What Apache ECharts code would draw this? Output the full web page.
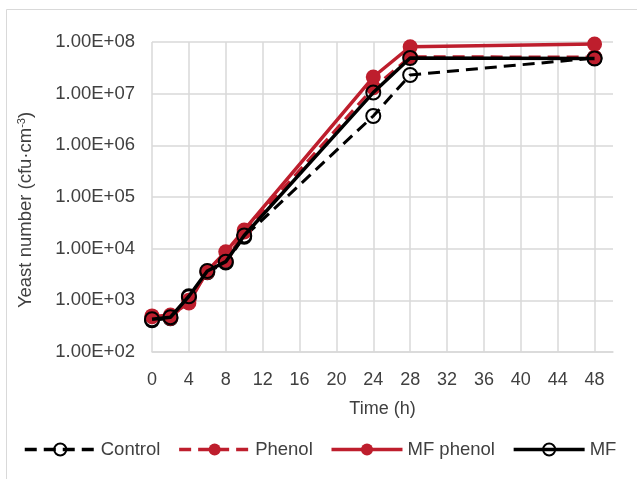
<!DOCTYPE html>
<html>
<head>
<meta charset="utf-8">
<script src="https://cdn.jsdelivr.net/npm/echarts@6/dist/echarts.min.js"></script>
<style>
  html, body { margin: 0; padding: 0; background: #fff; }
  #chart { width: 637px; height: 479px; }
</style>
</head>
<body>
<div id="chart"></div>
<script>
// sampling times (h)
const times = [0, 2, 4, 6, 8, 10, 24, 28, 48];

// yeast counts, cfu/cm3
const control  = [410, 450, 1150, 3500, 5400, 17000, 3.7e6, 2.3e7, 4.9e7];
const phenol   = [500, 450, 1000, 3500, 5900, 21000, 1.3e7, 5.2e7, 5.1e7];
const mfPhenol = [480, 520, 890, 3700, 8700, 23000, 2.1e7, 8.1e7, 9.1e7];
const mf       = [430, 470, 1200, 3700, 5600, 18000, 1.05e7, 4.9e7, 4.8e7];

const seriesNames = ['Control', 'Phenol', 'MF phenol', 'MF'];

const RED = '#be1e2d';
const GRID = '#d9d9d9';
const FONT = 'Liberation Sans';

const pairs = arr => times.map((t, i) => [t, arr[i]]);

function expLabel(v) {
    const e = Math.round(Math.log10(v));
    return '1.00E+' + (e < 10 ? '0' + e : e);
}

const chart = echarts.init(document.getElementById('chart'));

const option = {
    backgroundColor: '#fff',
    animation: false,
    textStyle: { fontFamily: FONT },
    grid: { left: 152, right: 24, top: 42, bottom: 127 },
    xAxis: {
        type: 'value',
        min: 0,
        max: 50,
        interval: 4,
        name: 'Time (h)',
        nameLocation: 'middle',
        nameGap: 48,
        nameTextStyle: { color: '#404040', fontSize: 18, fontFamily: FONT },
        axisLine: { show: true, lineStyle: { color: GRID, width: 1.5 } },
        axisTick: { show: false },
        axisLabel: { color: '#404040', fontSize: 18, margin: 19, showMaxLabel: false, fontFamily: FONT },
        splitLine: { show: true, showMaxLine: false, lineStyle: { color: GRID, width: 1.5 } }
    },
    yAxis: {
        type: 'log',
        logBase: 10,
        min: 100,
        max: 1e8,
        axisLine: { show: false },
        axisTick: { show: false },
        axisLabel: { color: '#404040', fontSize: 18.5, margin: 17, formatter: expLabel, fontFamily: FONT },
        splitLine: { show: true, lineStyle: { color: GRID, width: 1.5 } }
    },
    legend: {
        data: seriesNames,
        left: 23,
        top: 440,
        padding: 0,
        itemWidth: 71,
        itemHeight: 15,
        itemGap: 17,
        lineStyle: { width: 3.5 },
        textStyle: { color: '#404040', fontSize: 18.5, fontFamily: FONT }
    },
    graphic: [
        {
            type: 'rect',
            silent: true,
            shape: { x: 6.5, y: 9.5, width: 700, height: 600 },
            style: { fill: 'none', stroke: GRID, lineWidth: 1 }
        },
        {
            type: 'text',
            x: 26,
            y: 210,
            rotation: Math.PI / 2,
            style: {
                text: '{a|Yeast number (cfu·cm}{s|-3}{a|)}',
                align: 'center',
                verticalAlign: 'middle',
                rich: {
                    a: { fontSize: 18.5, fontFamily: FONT, fill: '#404040' },
                    s: { fontSize: 11, fontFamily: FONT, fill: '#404040', padding: [0, 0, 9, 0] }
                }
            }
        }
    ],
    series: [
        {
            name: 'Control',
            type: 'line',
            data: pairs(control),
            symbol: 'circle',
            symbolSize: 14,
            lineStyle: { color: '#000', width: 3, type: [12, 7] },
            itemStyle: { color: 'rgba(0,0,0,0)', borderColor: '#000', borderWidth: 2 },
            z: 2
        },
        {
            name: 'Phenol',
            type: 'line',
            data: pairs(phenol),
            symbol: 'circle',
            symbolSize: 15,
            lineStyle: { color: RED, width: 3, type: [12, 7] },
            itemStyle: { color: RED },
            z: 3
        },
        {
            name: 'MF phenol',
            type: 'line',
            data: pairs(mfPhenol),
            symbol: 'circle',
            symbolSize: 15,
            lineStyle: { color: RED, width: 3.5 },
            itemStyle: { color: RED },
            z: 4
        },
        {
            name: 'MF',
            type: 'line',
            data: pairs(mf),
            symbol: 'circle',
            symbolSize: 14,
            lineStyle: { color: '#000', width: 3.5 },
            itemStyle: { color: 'rgba(0,0,0,0)', borderColor: '#000', borderWidth: 2 },
            z: 5
        }
    ]
};

chart.setOption(option);
</script>
</body>
</html>
